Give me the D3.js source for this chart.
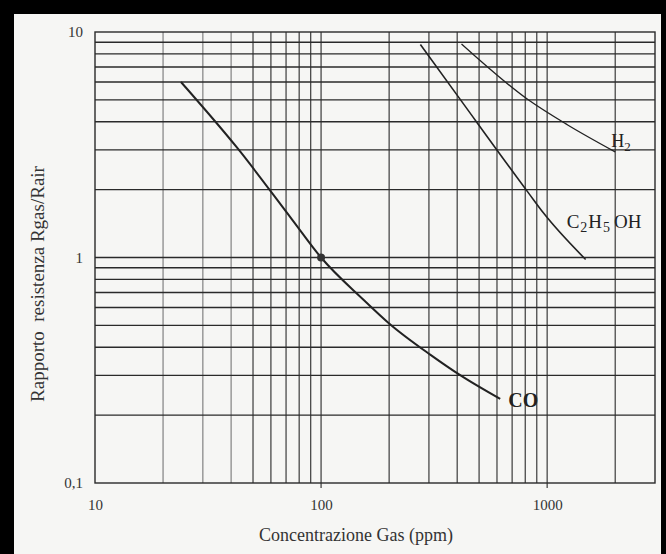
<!DOCTYPE html>
<html><head><meta charset="utf-8">
<script src="https://cdn.jsdelivr.net/npm/d3@7/dist/d3.min.js"></script>
<style>html,body{margin:0;padding:0;background:#f6f6f4;}svg{display:block;}</style>
</head><body>
<svg id="c" width="666" height="554"></svg>
<script>
// ---- data ----
const xTickValues = [10, 100, 1000];
const xTickLabels = ["10", "100", "1000"];
const yTickValues = [0.1, 1, 10];
const yTickLabels = ["0,1", "1", "10"];
const xGridValues = [20, 30, 40, 50, 60, 70, 80, 90, 100, 200, 300, 400, 500, 600, 700, 800, 900, 1000, 2000];
const yGridValues = [0.2, 0.3, 0.4, 0.5, 0.6, 0.7, 0.8, 0.9, 1, 2, 3, 4, 5, 6, 7, 8, 9];
const coX = [24, 42.6, 74.6, 100, 154, 200, 305, 414, 620];
const coY = [6, 3.06, 1.47, 1, 0.65, 0.51, 0.37, 0.30, 0.236];
const ethX = [275, 414, 828, 966, 1480];
const ethY = [8.8, 5.0, 1.93, 1.57, 0.98];
const h2X = [418, 828, 1233, 2000];
const h2Y = [8.85, 4.99, 3.87, 2.94];
const xTitle = "Concentrazione Gas (ppm)";
const yTitle = "Rapporto  resistenza Rgas/Rair";

// ---- chart ----
const svg = d3.select("#c");
const W = 666, H = 554;
svg.append("rect").attr("width", W).attr("height", H).attr("fill", "#f6f6f4");

const x = d3.scaleLog().domain([10, 3000]).range([95, 655]);
const y = d3.scaleLog().domain([0.1, 10]).range([483, 32]);
const serif = "'Liberation Serif','DejaVu Serif',serif";
const ink = "#2a2a2a";

const g = svg.append("g");
// grid
g.selectAll("line.vg").data(xGridValues).join("line")
  .attr("x1", d => x(d)).attr("x2", d => x(d))
  .attr("y1", y(10)).attr("y2", d => (d === 100 || d === 1000) ? y(0.1) + 5 : y(0.1))
  .attr("stroke", d => (d >= 20 && d <= 40) ? "#777" : ink)
  .attr("stroke-width", 1.1);
g.selectAll("line.hg").data(yGridValues).join("line")
  .attr("x1", x(10)).attr("x2", x(3000))
  .attr("y1", d => y(d)).attr("y2", d => y(d))
  .attr("stroke", ink).attr("stroke-width", 1.4);
// frame
g.append("rect").attr("x", x(10)).attr("y", y(10))
  .attr("width", x(3000) - x(10)).attr("height", y(0.1) - y(10))
  .attr("fill", "none").attr("stroke", ink).attr("stroke-width", 1.4);

// tick labels
const xt = d3.axisBottom(x).tickValues(xTickValues).tickFormat((d, i) => xTickLabels[i]).tickSize(0).tickPadding(16);
const xa = svg.append("g").attr("transform", `translate(0,${y(0.1)})`).call(xt);
xa.select(".domain").remove();
xa.selectAll("text").attr("font-family", serif).attr("font-size", 15).attr("fill", "#333");
const yt = d3.axisLeft(y).tickValues(yTickValues).tickFormat((d, i) => yTickLabels[i]).tickSize(0).tickPadding(12);
const ya = svg.append("g").attr("transform", `translate(${x(10)},0)`).call(yt);
ya.select(".domain").remove();
ya.selectAll("text").attr("font-family", serif).attr("font-size", 15).attr("fill", "#333");

// curves
const line = d3.line().x(d => x(d[0])).y(d => y(d[1])).curve(d3.curveMonotoneX);
const series = [d3.zip(coX, coY), d3.zip(ethX, ethY), d3.zip(h2X, h2Y)];
const widths = [2, 1.6, 1.3];
series.forEach((s, i) => {
  svg.append("path").attr("d", line(s)).attr("fill", "none")
    .attr("stroke", "#222").attr("stroke-width", widths[i]);
});
svg.append("circle").attr("cx", x(100)).attr("cy", y(1)).attr("r", 4).attr("fill", "#333");

// series labels
const lbl = (xp, yp, size, weight) => svg.append("text").attr("x", xp).attr("y", yp)
  .attr("font-family", serif).attr("font-size", size).attr("font-weight", weight).attr("fill", "#222");
const t1 = lbl(x(2000) - 4, y(2.94) - 5, 18, "normal");
t1.append("tspan").text("H");
t1.append("tspan").attr("font-size", 13).attr("dy", 4).text("2");
const t2 = lbl(x(1480) - 19, y(1.57) + 15, 19, "normal");
t2.append("tspan").text("C");
t2.append("tspan").attr("font-size", 14).attr("dy", 4).attr("dx", 1).text("2");
t2.append("tspan").attr("dy", -4).attr("dx", 1).text("H");
t2.append("tspan").attr("font-size", 14).attr("dy", 4).attr("dx", 1).text("5");
t2.append("tspan").attr("dy", -4).attr("dx", 4).text("OH");
lbl(x(620) + 8, y(0.236) + 8, 20, "bold").text("CO");

// axis titles
svg.append("text").attr("x", 356).attr("y", 541).attr("text-anchor", "middle")
  .attr("font-family", serif).attr("font-size", 18).attr("fill", "#333").text(xTitle);
svg.append("text").attr("transform", "translate(44,284) rotate(-90)").attr("text-anchor", "middle")
  .style("white-space", "pre")
  .attr("font-family", serif).attr("font-size", 19).attr("fill", "#333").text(yTitle);

// scanned black frame
svg.append("rect").attr("x", 0).attr("y", 0).attr("width", W).attr("height", 14).attr("fill", "#000");
svg.append("rect").attr("x", 0).attr("y", 0).attr("width", 14).attr("height", H).attr("fill", "#000");
svg.append("rect").attr("x", W - 5).attr("y", 0).attr("width", 5).attr("height", H).attr("fill", "#000");
</script>
</body></html>
